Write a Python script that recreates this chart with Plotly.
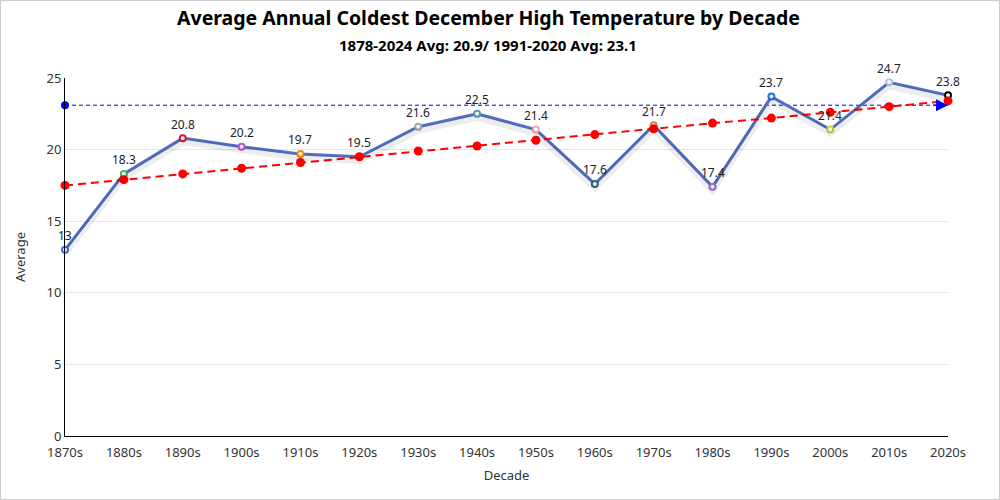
import plotly.graph_objects as go

decades = ["1870s", "1880s", "1890s", "1900s", "1910s", "1920s", "1930s", "1940s",
           "1950s", "1960s", "1970s", "1980s", "1990s", "2000s", "2010s", "2020s"]
averages = [13, 18.3, 20.8, 20.2, 19.7, 19.5, 21.6, 22.5, 21.4, 17.6, 21.7, 17.4, 23.7, 21.4, 24.7, 23.8]
trend = [17.5, 17.9, 18.3, 18.7, 19.1, 19.5, 19.9, 20.25, 20.65, 21.05, 21.45, 21.85, 22.2, 22.6, 23.0, 23.4]
normal_avg = 23.1
title_text = "Average Annual Coldest December High Temperature by Decade"
subtitle_text = "1878-2024 Avg: 20.9/ 1991-2020 Avg: 23.1"

point_colors = ["#4169e1", "#3cb371", "#dc143c", "#ba55d3", "#ff8c00", "#ffa07a", "#a9a9a9",
                "#4f9fb0", "#f4a6b7", "#2f6f6f", "#cd853f", "#9370db", "#1e6fe0", "#c8d43c",
                "#b0c4de", "#000000"]

FONT = "Noto Sans, Segoe UI, sans-serif"

fig = go.Figure()

# soft shadow of the main line (drawn on a slightly shifted hidden axis)
fig.add_trace(go.Scatter(
    x=decades, y=averages, mode="lines", yaxis="y2", cliponaxis=False,
    line=dict(color="rgba(0,0,0,0.07)", width=7), hoverinfo="skip", showlegend=False))

# 1991-2020 average line
fig.add_trace(go.Scatter(
    x=[decades[0], decades[-1]], y=[normal_avg, normal_avg], mode="lines", cliponaxis=False,
    line=dict(color="#0000ee", width=1, dash="4px,3px"),
    showlegend=False, hoverinfo="skip"))
fig.add_trace(go.Scatter(
    x=[decades[0]], y=[normal_avg], mode="markers", cliponaxis=False,
    marker=dict(color="#0000ff", size=8, line=dict(width=0)),
    showlegend=False, hoverinfo="skip"))

# main series
fig.add_trace(go.Scatter(
    x=decades, y=averages, mode="lines+markers", cliponaxis=False,
    line=dict(color="#5470c6", width=3),
    marker=dict(size=6, color="white", line=dict(color=point_colors, width=2)),
    showlegend=False))

# trend line
fig.add_trace(go.Scatter(
    x=decades, y=trend, mode="lines+markers", cliponaxis=False,
    line=dict(color="#ff0000", width=2, dash="8px,5px"),
    marker=dict(color="#ff0000", size=9),
    showlegend=False, hoverinfo="skip"))

W, H = 1000, 500
ml, mr, mt, mb = 65, 52, 78, 64
pw, ph = W - ml - mr, H - mt - mb

annotations = [
    dict(text="<b>" + title_text + "</b>", xref="paper", yref="paper",
         x=(488 - ml) / pw, y=1 + (mt - 17) / ph, showarrow=False,
         font=dict(size=19.5, color="#000", family=FONT), xanchor="center", yanchor="middle"),
    dict(text="<b>" + subtitle_text + "</b>", xref="paper", yref="paper",
         x=(488 - ml) / pw, y=1 + (mt - 45) / ph, showarrow=False,
         font=dict(size=15, color="#000", family=FONT), xanchor="center", yanchor="middle"),
    # arrow at the right end of the 1991-2020 average line
    dict(x=decades[-1], y=normal_avg, xref="x", yref="y", ax=-16, ay=0,
         showarrow=True, arrowhead=2, arrowsize=1.6, arrowwidth=1.5, arrowcolor="#0000ff",
         text=""),
]
for d, v in zip(decades, averages):
    annotations.append(dict(x=d, y=v, xref="x", yref="y", text=str(v), showarrow=False,
                            yshift=14, font=dict(family=FONT, size=12, color="#222")))

fig.update_layout(
    width=W, height=H,
    margin=dict(l=ml, r=mr, t=mt, b=mb),
    paper_bgcolor="white", plot_bgcolor="white",
    font=dict(family=FONT, color="#333"),
    xaxis=dict(type="category", categoryorder="array", categoryarray=decades,
               range=[0, len(decades) - 1], showgrid=False, showline=True,
               linecolor="#000", linewidth=1, ticks="", tickfont=dict(size=13, color="#333"),
               ticklabelstandoff=4,
               title=dict(text="Decade", font=dict(size=13, color="#333"), standoff=11),
               zeroline=False),
    yaxis=dict(range=[0, 25], dtick=5, showgrid=True, gridcolor="#e6e6e6",
               showline=True, linecolor="#000", linewidth=1, ticks="",
               tickfont=dict(size=13, color="#333"), zeroline=False,
               title=dict(text="Average", font=dict(size=13, color="#333"), standoff=17)),
    yaxis2=dict(range=[0.25, 25.25], overlaying="y", visible=False),
    annotations=annotations,
    shapes=[dict(type="rect", xref="paper", yref="paper",
                 x0=(-ml + 0.5) / pw, x1=1 + (mr - 0.5) / pw,
                 y0=(-mb + 0.5) / ph, y1=1 + (mt - 0.5) / ph,
                 line=dict(color="#cccccc", width=1), layer="below")],
)

fig.write_html("out.html", config={"displayModeBar": False},
               post_script="document.body.style.margin='0';document.body.style.padding='0';")
